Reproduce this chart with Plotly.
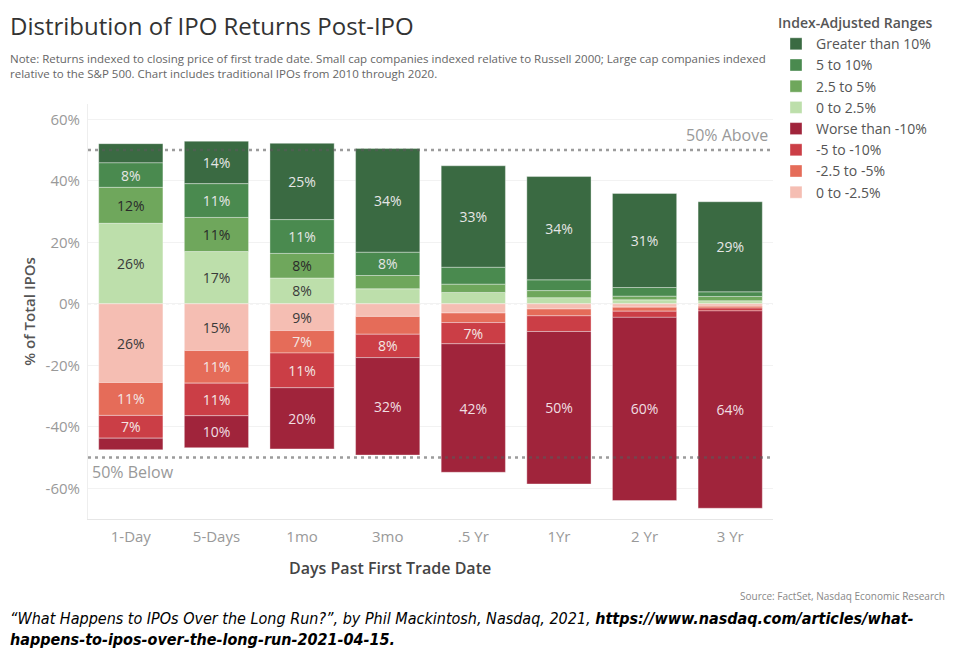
import plotly.graph_objects as go

# categories on the x axis
periods = ["1-Day", "5-Days", "1mo", "3mo", ".5 Yr", "1Yr", "2 Yr", "3 Yr"]

# share of IPOs (%) in each index-adjusted return bucket
gt_10 = [6.2, 13.8, 24.8, 33.7, 33.0, 33.6, 30.6, 29.3]
p5_10 = [8.0, 11.0, 11.0, 7.6, 5.5, 3.5, 2.8, 1.5]
p25_5 = [11.7, 11.1, 8.0, 4.3, 2.7, 2.3, 1.2, 1.4]
p0_25 = [26.2, 17.0, 8.4, 4.9, 3.7, 2.0, 1.3, 1.0]
n0_25 = [25.6, 15.2, 8.7, 4.1, 3.0, 1.7, 1.1, 0.8]
n25_5 = [10.7, 10.6, 7.3, 5.8, 3.1, 2.2, 1.3, 0.6]
n5_10 = [7.4, 10.6, 11.3, 7.6, 6.9, 5.1, 2.0, 0.9]
worse_10 = [3.8, 10.4, 19.9, 31.7, 41.8, 49.6, 59.6, 64.2]

y_ticks = [-60, -40, -20, 0, 20, 40, 60]
y_tick_labels = ["-60%", "-40%", "-20%", "0%", "20%", "40%", "60%"]

FONT = "Open Sans"

# (name, values, sign, colour, label colour, legend rank) in stacking order
buckets = [
    ("0 to 2.5%", p0_25, 1, "#bddfab", "#3a3a3a", 4),
    ("2.5 to 5%", p25_5, 1, "#6fa75c", "#2a2a2a", 3),
    ("5 to 10%", p5_10, 1, "#4a8a4f", "#e6e6e6", 2),
    ("Greater than 10%", gt_10, 1, "#3a6a42", "#e6e6e6", 1),
    ("0 to -2.5%", n0_25, -1, "#f5beb3", "#3a3a3a", 8),
    ("-2.5 to -5%", n25_5, -1, "#e56c59", "#f3e6e4", 7),
    ("-5 to -10%", n5_10, -1, "#cb3e46", "#f3e6e4", 6),
    ("Worse than -10%", worse_10, -1, "#a0243b", "#f0dfe2", 5),
]

fig = go.Figure()
for name, vals, sign, col, tcol, rank in buckets:
    labels = [f"{round(v)}%" if v >= 6.5 else "" for v in vals]
    fig.add_trace(go.Bar(
        x=periods,
        y=[sign * v for v in vals],
        name=name,
        marker=dict(color=col, line=dict(color="rgba(255,255,255,0.45)", width=0.8)),
        text=labels,
        textposition="inside",
        insidetextanchor="middle",
        textangle=0,
        constraintext="none",
        textfont=dict(family=FONT, size=14, color=tcol),
        legendrank=rank,
        hovertemplate="%{x}<br>" + name + ": %{text}<extra></extra>",
    ))

# the page body has an 8px margin, so the figure is offset by 8px
OFF = 8
W, H = 958 - 2 * OFF, 658 - 2 * OFF
# plot box in page pixels
PL, PR, PT, PB = 88, 773, 104, 519
L, T = PL - OFF, PT - OFF
R, B = W - (PR - OFF), H - (PB - OFF)
pw, ph = PR - PL, PB - PT


def px(xp, yp):
    # page pixels -> paper coordinates
    return (xp - PL) / pw, (PB - yp) / ph


lx, ly = px(776, 10)
fig.update_layout(
    width=W, height=H,
    margin=dict(l=L, r=R, t=T, b=B, autoexpand=False),
    barmode="relative",
    bargap=0.25,
    paper_bgcolor="white",
    plot_bgcolor="white",
    font=dict(family=FONT, color="#555"),
    title=dict(
        text="Distribution of IPO Returns Post-IPO",
        x=(10 - OFF) / W, xanchor="left", xref="container",
        y=1 - (27 - OFF) / H, yanchor="middle", yref="container",
        pad=dict(l=0, r=0, t=0, b=0),
        font=dict(family=FONT, size=24, color="#333"),
    ),
    legend=dict(
        title=dict(text="Index-Adjusted Ranges", font=dict(size=14, color="#555", weight=600)),
        x=lx, xanchor="left", y=ly, yanchor="top",
        font=dict(size=14, color="#555"),
        traceorder="normal",
        itemwidth=30,
        itemclick=False,
    ),
    showlegend=True,
)

fig.update_xaxes(
    showgrid=False,
    showline=True, linecolor="#e6e6e6", linewidth=1,
    ticks="", tickfont=dict(size=15, color="#999"),
    ticklabelstandoff=4,
    automargin=False,
    fixedrange=True,
)
fig.update_yaxes(
    range=[-70, 65],
    tickvals=y_ticks, ticktext=y_tick_labels,
    tickfont=dict(size=15, color="#999"),
    ticklabelstandoff=4,
    showgrid=True, gridcolor="#f2f2f2",
    zeroline=False,
    showline=True, linecolor="#eeeeee",
    title=dict(text="% of Total IPOs", font=dict(size=15, color="#555", weight=600), standoff=6),
    automargin=False,
    fixedrange=True,
)

# zero line and the 50% reference lines
fig.add_hline(y=0, line=dict(color="#dddddd", width=1, dash="dot"), layer="below")
for lvl in (50, -50):
    fig.add_shape(type="line", xref="paper", x0=0, x1=1, yref="y", y0=lvl, y1=lvl,
                  line=dict(color="rgba(90,90,90,0.6)", width=2.5, dash="3px,4px"), layer="above")

fig.add_annotation(text="50% Above", xref="paper", x=0.995, xanchor="right",
                   yref="y", y=50, yanchor="bottom", yshift=2, showarrow=False,
                   font=dict(size=16, color="#999"))
fig.add_annotation(text="50% Below", xref="paper", x=0.003, xanchor="left",
                   yref="y", y=-50, yanchor="top", yshift=-1, showarrow=False,
                   font=dict(size=16, color="#999"))

nx, ny = px(8, 49)
fig.add_annotation(
    text="Note: Returns indexed to closing price of first trade date. Small cap companies indexed relative to Russell 2000; Large cap companies indexed<br>relative to the S&P 500. Chart includes traditional IPOs from 2010 through 2020.",
    xref="paper", yref="paper", x=nx, y=ny, xanchor="left", yanchor="top",
    align="left", showarrow=False, font=dict(size=11.5, color="#666"),
)

tx, ty = px(390, 568)
fig.add_annotation(text="Days Past First Trade Date", xref="paper", yref="paper",
                   x=tx, y=ty, xanchor="center", yanchor="middle", showarrow=False,
                   font=dict(size=16, color="#444", weight=600))

sx, sy = px(947, 596)
fig.add_annotation(text="Source: FactSet, Nasdaq Economic Research", xref="paper", yref="paper",
                   x=sx, y=sy, xanchor="right", yanchor="middle", showarrow=False,
                   font=dict(size=10, color="#888"))

cx, cy = px(8, 607)
fig.add_annotation(
    text="<i>“What Happens to IPOs Over the Long Run?”, by Phil Mackintosh, Nasdaq, 2021, "
         "<b>https://www.nasdaq.com/articles/what-</b><br><b>happens-to-ipos-over-the-long-run-2021-04-15.</b></i>",
    xref="paper", yref="paper", x=cx, y=cy, xanchor="left", yanchor="top",
    align="left", showarrow=False,
    font=dict(family="Liberation Sans Narrow, DejaVu Sans Condensed", size=16, color="black"),
)

fig.write_html("out.html")
